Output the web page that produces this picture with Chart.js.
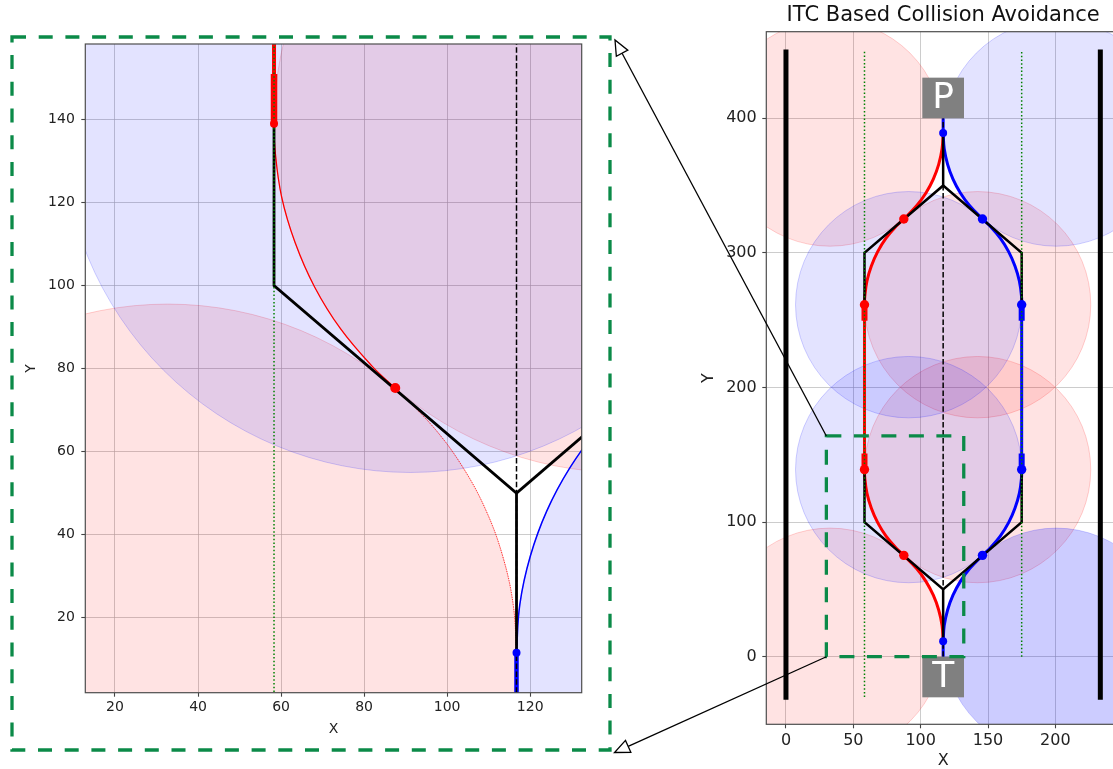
<!DOCTYPE html>
<html>
<head>
<meta charset="utf-8">
<title>ITC Based Collision Avoidance</title>
<script src="https://cdn.jsdelivr.net/npm/chart.js@4.4.1/dist/chart.umd.min.js"></script>
<style>
  html, body { margin: 0; padding: 0; background: #fff; overflow: hidden; width: 1113px; height: 769px; }
  #zoomChart { position: absolute; left: 0; top: 0; }
  #fullChart { position: absolute; left: 700px; top: 0; }
  #overlay { position: absolute; left: 0; top: 0; pointer-events: none; }
</style>
</head>
<body>
<canvas id="zoomChart" width="620" height="769"></canvas>
<canvas id="fullChart" width="440" height="769"></canvas>
<canvas id="overlay" width="1113" height="769"></canvas>
<script>
// ---------------- data ----------------
const xTicksZoom = [20, 40, 60, 80, 100, 120];
const yTicksZoom = [20, 40, 60, 80, 100, 120, 140];
const xTicksFull = [0, 50, 100, 150, 200];
const yTicksFull = [0, 100, 200, 300, 400];
const xRangeZoom = [12.85, 132.4];
const yRangeZoom = [1.9, 158.2];
const xRangeFull = [-14.6, 248];
const yRangeFull = [-50.2, 464.3];

// road edges and lane guides
const wallLeft = [[0, -32], [0, 451]];
const wallRight = [[233.4, -32], [233.4, 451]];
const guideLeft = [[58.3, -30], [58.3, 450]];
const guideRight = [[175, 0], [175, 450]];
const centreLine = [[116.7, 0], [116.7, 400]];

// planned (piecewise straight) paths
const planBottomLeft = [[116.7, 11.5], [116.7, 50], [58.3, 100], [58.3, 139]];
const planBottomRight = [[116.7, 50], [175, 100], [175, 139]];
const planTopLeft = [[58.3, 261.5], [58.3, 300], [116.7, 350], [116.7, 389]];
const planTopRight = [[175, 261.5], [175, 300], [116.7, 350]];

// vehicle 1 (red) trajectory
const redLower = [[116.7, 11.5], [115.9, 23.2], [113.4, 34.7], [109.4, 45.7], [103.9, 56.0], [97.0, 65.5],
  [87.5, 75.3], [81.9, 80.6], [74.3, 89.6], [68.1, 99.6], [63.4, 110.3], [60.1, 121.5], [58.5, 133.1], [58.3, 139]];
const redStraight = [[58.3, 139], [58.3, 261.5]];
const redUpper = [[58.3, 261.5], [58.5, 267.4], [60.1, 279.0], [63.4, 290.2], [68.1, 300.9], [74.3, 310.9],
  [81.9, 319.9], [87.5, 325.2], [97.0, 335.0], [103.9, 344.5], [109.4, 354.8], [113.4, 365.8], [115.9, 377.3], [116.7, 389]];
const redBoostA = [[58.3, 139], [58.3, 151]];
const redBoostB = [[58.3, 249.5], [58.3, 261.5]];
const redDots = [[87.5, 75.3], [58.3, 139], [58.3, 261.5], [87.5, 325.2]];

// vehicle 2 (blue) trajectory
const blueStubBottom = [[116.7, 0], [116.7, 11.5]];
const blueLower = [[116.7, 11.5], [117.5, 23.2], [120.0, 34.7], [124.0, 45.7], [129.5, 56.0], [136.4, 65.5],
  [145.9, 75.3], [151.5, 80.6], [159.1, 89.6], [165.3, 99.6], [170.0, 110.3], [173.3, 121.5], [174.9, 133.1], [175, 139]];
const blueStraight = [[175, 139], [175, 261.5]];
const blueUpper = [[175, 261.5], [174.9, 267.4], [173.3, 279.0], [170.0, 290.2], [165.3, 300.9], [159.1, 310.9],
  [151.5, 319.9], [145.9, 325.2], [136.4, 335.0], [129.5, 344.5], [124.0, 354.8], [120.0, 365.8], [117.5, 377.3], [116.7, 389]];
const blueStubTop = [[116.7, 389], [116.7, 400]];
const blueBoostA = [[175, 139], [175, 151]];
const blueBoostB = [[175, 249.5], [175, 261.5]];
const blueDots = [[116.7, 11.5], [145.9, 75.3], [175, 139], [175, 261.5], [145.9, 325.2], [116.7, 389]];

// ITC zones (circle centres, common radius)
const pinkCentres = [[32.7, 11.5], [142.3, 139], [142.3, 261.5], [32.7, 389]];
const blueCentres = [[200.7, 11.5], [91.1, 139], [91.1, 261.5], [200.7, 389]];
const zoneRadius = 84;

// end markers and the enlarged region
const markerText = ['P', 'T'];
const markerY = [400, 0];
const markerX = 116.7;
const zoomBox = [30, 0, 132, 164];

// ---------------- helpers ----------------
Chart.defaults.font.family = "'DejaVu Sans', 'Liberation Sans', sans-serif";
Chart.defaults.color = '#222';

const RED = '#ff0000', BLUE = '#0000ff', GREEN = '#008000', BOX_GREEN = '#0b8a48';
const toXY = pts => pts.map(p => ({ x: p[0], y: p[1] }));

function path(pts, color, width, order, extra) {
  return Object.assign({
    data: toXY(pts), showLine: true, borderColor: color, backgroundColor: color,
    borderWidth: width, pointRadius: 0, pointHoverRadius: 0, fill: false, clip: 0,
    tension: 0, capBezierPoints: false, order
  }, extra || {});
}
function markers(pts, color, radii, order) {
  return {
    data: toXY(pts), showLine: false, pointRadius: radii, pointHoverRadius: radii,
    pointBackgroundColor: color, pointBorderColor: color, pointBorderWidth: 0, clip: 0, order
  };
}
function zones(centres, fills, edges, order) {
  const r = ctx => {
    const s = ctx.chart.scales.x;
    return Math.abs(s.getPixelForValue(zoneRadius) - s.getPixelForValue(0));
  };
  return {
    data: toXY(centres), showLine: false, pointRadius: r, pointHoverRadius: r,
    pointBackgroundColor: fills, pointBorderColor: edges, pointBorderWidth: 1, clip: 0, order
  };
}

function axes(xr, yr, xt, yt, size, yWidth, xHeight, xPad, yPad) {
  const grid = { color: 'rgba(170,170,170,0.6)', lineWidth: 1, tickLength: 4, tickColor: '#444', tickWidth: 1.1 };
  return {
    x: {
      type: 'linear', position: 'bottom', min: xr[0], max: xr[1], grid, border: { display: false },
      ticks: { font: { size }, color: '#222', padding: xPad, maxRotation: 0 },
      afterBuildTicks: s => { s.ticks = xt.map(v => ({ value: v })); },
      afterFit: s => { s.height = xHeight; }
    },
    y: {
      type: 'linear', position: 'left', min: yr[0], max: yr[1], grid, border: { display: false },
      ticks: { font: { size }, color: '#222', padding: yPad },
      afterBuildTicks: s => { s.ticks = yt.map(v => ({ value: v })); },
      afterFit: s => { s.width = yWidth; }
    }
  };
}

// frame, end markers, region box, titles
const decor = {
  id: 'decor',
  afterDatasetsDraw(chart, args, o) {
    const { ctx, chartArea: a, scales: { x, y } } = chart;
    ctx.save();
    ctx.beginPath();
    ctx.rect(a.left, a.top, a.right - a.left, a.bottom - a.top);
    ctx.clip();
    if (o.markers) {
      const cx = x.getPixelForValue(markerX);
      const w = 41.7, h = 40.6;
      markerText.forEach((t, i) => {
        const py = y.getPixelForValue(markerY[i]);
        const top = i === 0 ? py - h : py;
        ctx.fillStyle = '#808080';
        ctx.fillRect(cx - w / 2, top, w, h);
        ctx.fillStyle = '#fff';
        ctx.font = "36px 'DejaVu Sans'";
        ctx.textAlign = 'center';
        ctx.textBaseline = 'middle';
        ctx.fillText(t, cx, top + h / 2 + 0.7);
      });
    }
    if (o.box) {
      const x0 = x.getPixelForValue(zoomBox[0]), x1 = x.getPixelForValue(zoomBox[2]);
      const y0 = y.getPixelForValue(zoomBox[1]), y1 = y.getPixelForValue(zoomBox[3]);
      ctx.strokeStyle = BOX_GREEN;
      ctx.lineWidth = 3.3;
      ctx.setLineDash([15, 12.5]);
      ctx.strokeRect(x0, y1, x1 - x0, y0 - y1);
      ctx.setLineDash([]);
    }
    ctx.restore();
    ctx.save();
    ctx.strokeStyle = '#4d4d4d';
    ctx.lineWidth = 1.2;
    ctx.strokeRect(a.left, a.top, a.right - a.left, a.bottom - a.top);
    ctx.restore();
  },
  afterDraw(chart, args, o) {
    const { ctx, chartArea: a } = chart;
    ctx.save();
    ctx.fillStyle = '#222';
    ctx.textAlign = 'center';
    ctx.textBaseline = 'middle';
    ctx.font = o.titleSize + "px 'DejaVu Sans'";
    ctx.fillText('X', (a.left + a.right) / 2, o.xTitleY);
    ctx.save();
    ctx.translate(o.yTitleX, (a.top + a.bottom) / 2);
    ctx.rotate(-Math.PI / 2);
    ctx.fillText('Y', 0, 0);
    ctx.restore();
    if (o.title) {
      ctx.fillStyle = '#111';
      ctx.font = "21px 'DejaVu Sans'";
      ctx.fillText(o.title, (a.left + a.right) / 2, 16);
    }
    ctx.restore();
  }
};

// ---------------- enlarged view ----------------
const zoomChart = new Chart(document.getElementById('zoomChart'), {
  type: 'scatter',
  data: {
    datasets: [
      zones(pinkCentres, 'rgba(255,0,0,0.11)', 'rgba(255,0,0,0.18)', 20),
      zones(blueCentres, 'rgba(0,0,255,0.11)', 'rgba(0,0,255,0.18)', 19),
      path(redStraight, RED, 4, 15),
      path(redBoostA, RED, 6.5, 14),
      path(redLower.slice(0, 7), 'rgba(255,0,0,0.75)', 1, 15, { tension: 0.4, borderDash: [1.2, 1.2] }),
      path(redLower.slice(6), RED, 1.3, 15, { tension: 0.4 }),
      path(blueLower, BLUE, 1.5, 14.5, { tension: 0.4 }),
      path(blueStubBottom, BLUE, 4.5, 14.5),
      path(planBottomLeft, '#000', 2.8, 12),
      path(planBottomRight, '#000', 2.8, 12),
      path(guideLeft, GREEN, 1.5, 10, { borderDash: [1.5, 2.2] }),
      path(guideRight, GREEN, 1.5, 10, { borderDash: [1.5, 2.2] }),
      path(centreLine, '#000', 1.5, 9, { borderDash: [5.5, 2.4] }),
      markers(redDots, RED, [5, 4, 4, 5], 5),
      markers(blueDots, BLUE, [4, 4, 4, 4, 4, 4], 4)
    ]
  },
  options: {
    responsive: false, animation: false, devicePixelRatio: 1, events: [],
    layout: { padding: { left: 0, top: 44, right: 38.3, bottom: 36.3 } },
    scales: axes(xRangeZoom, yRangeZoom, xTicksZoom, yTicksZoom, 14, 85.3, 40, 2.5, 6.5),
    plugins: {
      legend: { display: false }, tooltip: { enabled: false },
      decor: { titleSize: 14, xTitleY: 729, yTitleX: 31.5 }
    }
  },
  plugins: [decor]
});

// ---------------- full scene ----------------
const fullChart = new Chart(document.getElementById('fullChart'), {
  type: 'scatter',
  data: {
    datasets: [
      zones(pinkCentres, 'rgba(255,0,0,0.11)', 'rgba(255,0,0,0.18)', 20),
      zones(blueCentres, ['rgba(0,0,255,0.2)', 'rgba(0,0,255,0.11)', 'rgba(0,0,255,0.11)', 'rgba(0,0,255,0.11)'],
        'rgba(0,0,255,0.18)', 19),
      path(wallLeft, '#000', 5, 18),
      path(wallRight, '#000', 5, 18),
      path(redLower, RED, 3, 15, { tension: 0.4 }),
      path(redStraight, RED, 3, 15),
      path(redUpper, RED, 3, 15, { tension: 0.4 }),
      path(redBoostA, RED, 6, 14.8),
      path(redBoostB, RED, 6, 14.8),
      path(blueLower, BLUE, 3, 14.5, { tension: 0.4 }),
      path(blueStraight, BLUE, 3, 14.5),
      path(blueUpper, BLUE, 3, 14.5, { tension: 0.4 }),
      path(blueStubBottom, BLUE, 3, 14.4),
      path(blueStubTop, BLUE, 3, 14.4),
      path(blueBoostA, BLUE, 6, 14.3),
      path(blueBoostB, BLUE, 6, 14.3),
      path(planBottomLeft, '#000', 2.5, 12),
      path(planBottomRight, '#000', 2.5, 12),
      path(planTopLeft, '#000', 2.5, 12),
      path(planTopRight, '#000', 2.5, 12),
      path(guideLeft, GREEN, 1.5, 10, { borderDash: [1.5, 2.2] }),
      path(guideRight, GREEN, 1.5, 10, { borderDash: [1.5, 2.2] }),
      path(centreLine, '#000', 1.5, 9, { borderDash: [5.5, 2.4] }),
      markers(redDots, RED, [4.7, 4.7, 4.7, 4.7], 5),
      markers(blueDots, BLUE, [4, 4.7, 4.7, 4.7, 4.7, 4], 4)
    ]
  },
  options: {
    responsive: false, animation: false, devicePixelRatio: 1, events: [],
    layout: { padding: { left: 0, top: 31.7, right: 20, bottom: 14.7 } },
    scales: axes(xRangeFull, yRangeFull, xTicksFull, yTicksFull, 16, 66.3, 30, 3, 5.6),
    plugins: {
      legend: { display: false }, tooltip: { enabled: false },
      decor: { titleSize: 16, xTitleY: 61 + 700, yTitleX: 9, markers: true, box: true, title: 'ITC Based Collision Avoidance' }
    }
  },
  plugins: [decor]
});

// ---------------- frame around the enlarged view and its connectors ----------------
(function drawCallouts() {
  const g = document.getElementById('overlay').getContext('2d');
  const off = fullChart.canvas.offsetLeft;
  const fx = fullChart.scales.x, fy = fullChart.scales.y;
  const boxLeft = off + fx.getPixelForValue(zoomBox[0]);
  const boxTop = fy.getPixelForValue(zoomBox[3]);
  const boxBottom = fy.getPixelForValue(zoomBox[1]);

  g.strokeStyle = BOX_GREEN;
  g.lineWidth = 3.3;
  g.setLineDash([14, 12.7]);
  g.strokeRect(12, 37, 598, 713);
  g.setLineDash([]);

  function connector(from, tip) {
    const dx = from[0] - tip[0], dy = from[1] - tip[1];
    const len = Math.hypot(dx, dy);
    const ux = dx / len, uy = dy / len;
    const headLen = 15, half = 6.5;
    const bx = tip[0] + ux * headLen, by = tip[1] + uy * headLen;
    g.strokeStyle = '#000';
    g.lineWidth = 1.3;
    g.beginPath();
    g.moveTo(from[0], from[1]);
    g.lineTo(bx, by);
    g.stroke();
    g.beginPath();
    g.moveTo(tip[0], tip[1]);
    g.lineTo(bx - uy * half, by + ux * half);
    g.lineTo(bx + uy * half, by - ux * half);
    g.closePath();
    g.fillStyle = '#fff';
    g.fill();
    g.stroke();
  }
  connector([boxLeft, boxTop], [615, 40]);
  connector([boxLeft, boxBottom], [614.5, 752.5]);
})();
</script>
</body>
</html>
